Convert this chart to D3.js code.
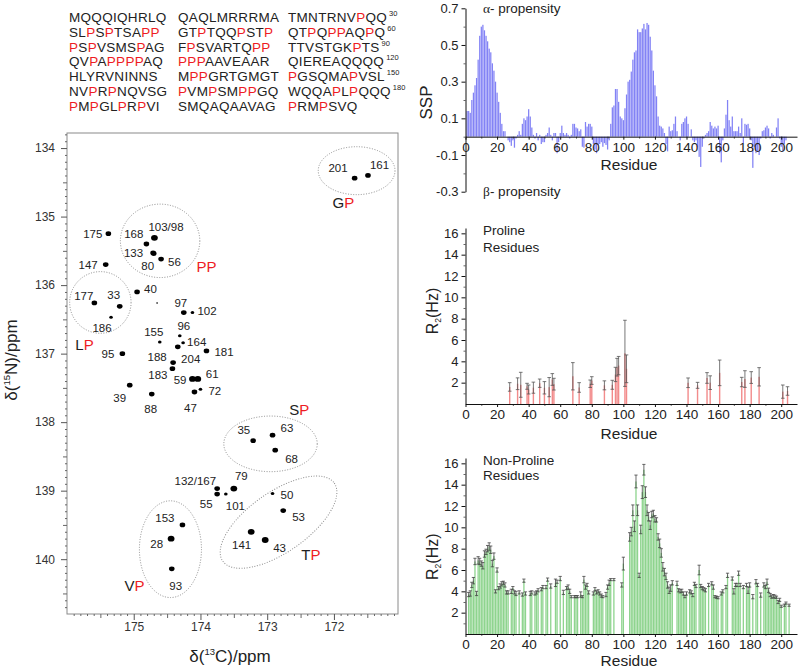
<!DOCTYPE html>
<html><head><meta charset="utf-8">
<script src="https://cdn.jsdelivr.net/npm/d3@7"></script>
<style>body{margin:0;background:#fff}svg{display:block}</style>
</head><body>
<script>
// ---------------- DATA ----------------
const seqRows = [
 "MQQQIQHRLQ QAQLMRRRMA TMNTRNVPQQ",
 "SLPSPTSAPP GTPTQQPSTP QTPQPPAQPQ",
 "PSPVSMSPAG FPSVARTQPP TTVSTGKPTS",
 "QVPAPPPPAQ PPPAAVEAAR QIEREAQQQQ",
 "HLYRVNINNS MPPGRTGMGT PGSQMAPVSL",
 "NVPRPNQVSG PVMPSMPPGQ WQQAPLPQQQ",
 "PMPGLPRPVI SMQAQAAVAG PRMPSVQ"
];
const seqRowEnds = ["30","60","90","120","150","180"];

const peakLabels = ["175","103/98","168","133","80","56","147","40","177","33","","97","102","186","96","155","164","188","181","95","183","204","59","61","72","47","39","88","35","63","68","132/167","55","79","101","50","53","153","28","141","43","93","201","161"];
const peakC = [175.38,174.69,174.81,174.71,174.70,174.59,175.42,174.95,175.59,175.21,174.65,174.25,174.12,175.34,174.31,174.61,174.26,174.34,173.91,175.17,174.42,174.41,174.12,174.04,174.00,174.09,175.06,174.73,173.21,172.92,172.88,173.75,173.75,173.50,173.62,172.92,172.76,174.27,174.44,173.24,173.03,174.43,171.69,171.49];
const peakN = [135.25,135.31,135.40,135.53,135.54,135.62,135.70,136.10,136.26,136.31,136.26,136.40,136.40,136.47,136.74,136.83,136.84,136.90,136.96,137.00,137.22,137.13,137.37,137.37,137.52,137.56,137.46,137.59,138.27,138.19,138.41,138.97,139.05,138.97,139.05,139.04,139.29,139.50,139.70,139.60,139.72,140.14,134.44,134.40];
const peakIntensity = [2,3,2,2,2,2,2,2,2,2,0,2,1,1,1,1,1,2,2,2,2,2,3,3,1,2,2,2,2,2,2,2,2,3,1,1,2,2,3,3,3,2,2,2];

const regionNames = ["PP","LP","GP","SP","VP","TP"];
const regionC  = [174.605,175.50,171.66,172.95,174.45,172.83];
const regionN  = [135.354,136.253,134.33,138.317,139.854,139.46];
const regionRC = [0.595,0.46,0.575,0.70,0.465,1.02];
const regionRN = [0.536,0.45,0.35,0.406,0.706,0.438];
const regionTilt = [0,0,0,0,0,-35];
const regionLabelC = [174.06,175.875,172.02,172.67,175.14,172.49];
const regionLabelN = [135.81,136.95,134.87,137.90,140.47,140.01];

const nmrXTicks = [175,174,173,172];
const nmrYTicks = [134,135,136,137,138,139,140];

// SSP per residue 1..205
const sspValues = [
 0.14,0.14,0.13,0.20,0.24,0.28,0.32,0.42,0.55,0.60,
 0.61,0.58,0.55,0.52,0.48,0.46,0.40,0.36,0.30,0.24,
 0.19,0.13,0.07,0.03,0.03,0.00,-0.02,-0.03,-0.05,-0.02,
 -0.06,-0.01,0.01,0.03,0.01,0.07,0.10,0.09,0.11,0.15,
 0.11,0.05,0.01,-0.01,0.02,-0.02,0.01,-0.04,-0.03,-0.03,
 0.01,0.02,0.05,0.01,-0.02,0.02,0.02,-0.09,-0.03,0.02,
 0.06,0.02,0.01,0.02,0.01,-0.01,0.01,0.07,0.07,0.05,
 0.045,0.03,0.04,-0.055,-0.06,0.08,0.055,0.07,0.07,0.055,
 -0.04,-0.07,-0.09,-0.045,-0.04,-0.03,-0.055,-0.035,-0.045,-0.07,
 -0.02,0.07,0.16,0.17,0.26,0.26,0.19,0.11,0.10,0.09,
 0.155,0.23,0.30,0.31,0.355,0.42,0.46,0.47,0.585,0.57,
 0.57,0.59,0.615,0.585,0.62,0.61,0.545,0.47,0.36,0.28,
 0.22,0.11,0.06,0.055,0.045,0.02,-0.04,-0.08,0.055,0.03,
 0.035,0.07,0.11,0.03,0.00,-0.02,0.07,0.08,0.10,0.11,
 0.07,0.00,0.04,-0.02,-0.03,-0.02,-0.055,-0.11,-0.165,-0.055,
 -0.01,0.01,0.02,0.03,0.08,0.06,0.045,0.055,0.045,0.06,
 -0.09,-0.14,-0.02,0.045,0.12,0.20,0.09,0.055,0.11,0.03,
 0.03,0.03,0.055,0.02,0.10,-0.035,0.07,0.065,0.07,0.045,
 -0.02,-0.17,-0.055,-0.09,-0.08,-0.10,-0.01,0.03,0.035,0.05,
 0.06,0.045,-0.01,0.02,0.01,0.00,0.05,0.10,-0.01,-0.055,
 -0.08,-0.04,-0.02,0.00,0.00
];
const sspTicks = [0.7,0.5,0.3,0.1,-0.1,-0.3];
const residueTicks = [0,20,40,60,80,100,120,140,160,180,200];
const r2Ticks = [2,4,6,8,10,12,14,16];

const proResidues = [28,33,35,39,40,43,47,50,53,55,56,68,72,79,80,88,93,95,96,97,101,102,141,147,153,155,161,175,177,181,186,201,204];
const proR2  = [1.6,1.9,1.8,1.66,1.36,1.53,1.95,1.52,1.58,2.3,1.86,2.6,1.55,1.9,2.2,1.75,1.8,2.77,3.45,3.6,4.75,3.3,1.99,1.75,2.44,2.0,2.92,2.06,2.34,2.48,2.55,1.16,1.22];
const proErr = [0.4,0.55,1.17,0.28,0.42,0.52,0.39,0.58,0.9,0.55,0.55,1.28,0.45,0.35,0.36,0.42,0.42,0.67,0.83,0.86,3.1,1.3,0.45,0.28,0.5,0.64,1.2,0.44,0.78,0.55,0.86,0.62,0.4];

const nonProResidues = [
 2,3,4,5,6,7,8,9,10,11,
 12,13,14,15,16,17,18,19,20,21,
 22,23,24,25,26,27,29,30,31,32,
 34,36,37,38,41,42,44,45,46,48,
 49,51,52,54,57,58,60,62,64,65,
 66,67,69,70,71,73,74,75,76,77,
 78,81,82,83,84,85,86,87,89,90,
 91,92,94,99,100,104,105,106,107,108,
 109,110,111,112,113,114,115,116,117,118,
 119,120,121,122,123,124,125,126,127,128,
 129,130,131,134,135,136,137,138,139,140,
 142,143,144,145,146,148,149,150,151,152,
 154,156,157,158,159,160,162,163,165,166,
 169,170,171,172,173,174,176,178,179,180,
 182,184,185,187,189,190,191,192,193,194,
 195,196,197,198,199,200,202,203,205];
const nonProR2 = [
 3.7,3.8,4.6,5.0,6.8,3.8,6.9,6.8,6.6,6.4,
 7.5,7.7,8.0,8.2,7.9,6.6,7.3,4.0,6.0,4.3,
 4.5,4.7,4.8,4.6,3.9,3.9,4.0,4.3,3.9,3.8,
 3.9,3.7,5.0,3.8,3.8,3.9,3.8,3.9,4.1,4.2,
 4.4,4.4,5.1,4.5,4.8,4.9,5.2,3.9,4.3,4.4,
 4.0,3.5,3.5,3.5,3.5,3.7,3.5,5.1,4.4,4.6,
 3.9,3.8,4.2,3.9,4.0,3.8,3.6,3.5,3.7,4.4,
 4.8,5.1,5.1,4.6,6.6,9.1,9.6,11.6,10.1,14.3,
 11.6,5.5,9.8,13.3,15.4,13.3,11.6,11.0,10.2,11.2,
 11.3,10.8,10.7,9.1,8.5,7.6,6.3,5.8,5.4,4.6,
 4.1,4.3,4.8,4.75,4.1,4.0,4.05,3.8,3.5,3.8,
 4.0,3.9,3.65,4.7,4.5,6.0,4.5,4.3,4.2,4.1,
 4.6,4.75,4.4,3.5,3.45,3.4,3.8,4.0,4.4,5.5,
 5.2,4.0,4.6,4.6,5.7,4.6,4.4,4.6,4.1,4.6,
 3.5,4.9,4.6,3.65,4.6,4.4,4.9,4.1,3.65,3.5,
 3.55,3.5,3.45,3.0,3.2,2.6,2.7,2.9,2.7];
const nonProErr = [
 0.2,0.25,0.25,0.3,0.3,0.2,0.35,0.3,0.25,0.3,
 0.3,0.25,0.3,0.35,0.35,0.3,0.3,0.15,0.2,0.15,
 0.2,0.2,0.15,0.2,0.15,0.15,0.2,0.15,0.15,0.2,
 0.15,0.15,0.15,0.15,0.2,0.15,0.15,0.15,0.15,0.15,
 0.15,0.15,0.15,0.2,0.35,0.15,0.2,0.2,0.15,0.2,
 0.2,0.1,0.1,0.1,0.1,0.25,0.1,0.3,0.2,0.15,
 0.15,0.15,0.15,0.15,0.15,0.15,0.15,0.1,0.2,0.2,
 0.25,0.1,0.1,0.2,0.6,0.4,0.4,0.5,0.5,0.6,
 0.5,0.2,0.4,0.6,0.5,0.5,0.5,0.4,0.4,0.3,
 0.3,0.3,0.2,0.3,0.4,0.4,0.4,0.35,0.3,0.3,
 0.3,0.3,0.2,0.2,0.15,0.15,0.15,0.15,0.1,0.15,
 0.15,0.15,0.15,0.15,0.15,0.45,0.15,0.15,0.15,0.15,
 0.15,0.15,0.2,0.1,0.1,0.1,0.15,0.15,0.15,0.2,
 0.15,0.25,0.15,0.15,0.2,0.15,0.15,0.15,0.3,0.2,
 0.2,0.2,0.15,0.2,0.2,0.15,0.25,0.2,0.15,0.15,
 0.15,0.15,0.1,0.15,0.15,0.1,0.1,0.1,0.1];

// ---------------- LAYOUT / STYLE ----------------
const FONT = '"Liberation Sans", Arial, sans-serif';
const RED = "#ee1c24", INK = "#222";
const labelLayout = {
 "175":[-6,0,"end"],"103/98":[-6,-11,"start"],"168":[-3,-10,"end"],"133":[-10,0,"end"],"80":[-6,12,"middle"],
 "56":[7,3,"start"],"147":[-8,0,"end"],"40":[7,-3,"start"],"177":[-1,-7,"end"],"33":[-6,-12,"middle"],
 "97":[-3,-10,"middle"],"102":[5,-2,"start"],"186":[-9,10,"middle"],"96":[4,-10,"middle"],"155":[-6,-10,"middle"],
 "164":[4,-1,"start"],"188":[-11,10,"end"],"204":[8,-4,"start"],"183":[-5,6,"end"],"181":[8,1,"start"],
 "95":[-8,0,"end"],"59":[-6,1,"end"],"61":[8,-5,"start"],"72":[8,2,"start"],"47":[-4,16,"middle"],
 "39":[-10,13,"middle"],"88":[-1,15,"middle"],"35":[-3,-11,"end"],"63":[8,-7,"start"],"68":[10,9,"start"],
 "132/167":[-1,-8,"end"],"79":[7.5,-13,"middle"],"55":[-11,10,"middle"],"101":[0,12,"start"],"50":[8,1,"start"],
 "53":[9,6,"start"],"153":[-8,-7,"end"],"28":[-8,5,"end"],"141":[0,13,"end"],"43":[8,8,"start"],
 "93":[4,17,"middle"],"201":[-7,-10,"end"],"161":[2,-11,"start"]
};

const svg = d3.select("body").append("svg").attr("width",798).attr("height",670)
  .attr("font-family",FONT);
svg.append("rect").attr("width",798).attr("height",670).attr("fill","#fff");

// ---------- Sequence ----------
const seqX = [69,178,288];
seqRows.forEach((row,i)=>{
  const yb = 22 + i*14.75;
  row.split(" ").forEach((grp,j)=>{
    const t = svg.append("text").attr("x",seqX[j]).attr("y",yb)
      .attr("font-size",13.5).attr("letter-spacing",0.3);
    grp.split("").forEach(ch=> t.append("tspan").attr("fill", ch==="P"?RED:INK).text(ch));
    if(j===2 && i<seqRowEnds.length){
      const len = t.node().getComputedTextLength();
      svg.append("text").attr("x",seqX[j]+len+2).attr("y",yb-6).attr("font-size",7.5)
        .attr("fill",INK).text(seqRowEnds[i]);
    }
  });
});

// ---------- NMR spectrum ----------
const xC = d3.scaleLinear().domain([176,171.04]).range([67,398]);
const yN = d3.scaleLinear().domain([133.78,140.8]).range([133,614]);

svg.append("rect").attr("x",67).attr("y",133).attr("width",331).attr("height",481)
  .attr("fill","none").attr("stroke","#8a8a8a").attr("stroke-width",1);

function ticksOnly(g){ g.select(".domain").remove(); g.selectAll("text").remove(); g.selectAll(".tick line").attr("stroke","#666"); }
const minorN = d3.range(1338,1408).filter(v=>v%5!==0).map(v=>v/10);
const medN = d3.range(1338,1408).filter(v=>v%5===0 && v%10!==0).map(v=>v/10);
const minorC = d3.range(1711,1760).filter(v=>v%5!==0).map(v=>v/10);
const medC = d3.range(1711,1760).filter(v=>v%5===0 && v%10!==0).map(v=>v/10);

const gL = svg.append("g").attr("transform","translate(67,0)");
gL.append("g").call(d3.axisLeft(yN).tickValues(minorN).tickSize(2)).call(ticksOnly);
gL.append("g").call(d3.axisLeft(yN).tickValues(medN).tickSize(4)).call(ticksOnly);
const gLm = gL.append("g").call(d3.axisLeft(yN).tickValues(nmrYTicks).tickSize(6).tickPadding(6).tickFormat(d3.format("d")));
gLm.select(".domain").remove();
gLm.selectAll(".tick line").attr("stroke","#555");
gLm.selectAll("text").attr("font-size",12).attr("font-family",FONT).attr("fill","#333");

const gB = svg.append("g").attr("transform","translate(0,614)");
gB.append("g").call(d3.axisBottom(xC).tickValues(minorC).tickSize(2)).call(ticksOnly);
gB.append("g").call(d3.axisBottom(xC).tickValues(medC).tickSize(4)).call(ticksOnly);
const gBm = gB.append("g").call(d3.axisBottom(xC).tickValues(nmrXTicks).tickSize(6).tickPadding(2).tickFormat(d3.format("d")));
gBm.select(".domain").remove();
gBm.selectAll(".tick line").attr("stroke","#555");
gBm.selectAll("text").attr("font-size",12).attr("font-family",FONT).attr("fill","#333");

// axis titles
const xt = svg.append("text").attr("x",230).attr("y",662).attr("text-anchor","middle")
  .attr("font-size",17).attr("fill",INK);
xt.append("tspan").text("δ(");
xt.append("tspan").attr("font-size",9.5).attr("dy",-7).text("13");
xt.append("tspan").attr("dy",7).text("C)/ppm");
const yt = svg.append("text").attr("transform","translate(17,360) rotate(-90)").attr("text-anchor","middle")
  .attr("font-size",17).attr("fill",INK);
yt.append("tspan").text("δ(");
yt.append("tspan").attr("font-size",9.5).attr("dy",-7).text("15");
yt.append("tspan").attr("dy",7).text("N)/ppm");

// region ellipses
regionNames.forEach((nm,i)=>{
  const cx = xC(regionC[i]), cy = yN(regionN[i]);
  const rx = Math.abs(xC(regionC[i]-regionRC[i]) - cx), ry = Math.abs(yN(regionN[i]+regionRN[i]) - cy);
  svg.append("ellipse").attr("cx",cx).attr("cy",cy).attr("rx",rx).attr("ry",ry)
    .attr("transform",`rotate(${regionTilt[i]},${cx},${cy})`)
    .attr("fill","none").attr("stroke","#8c8c8c").attr("stroke-width",1).attr("stroke-dasharray","1 1.6");
  const t = svg.append("text").attr("x",xC(regionLabelC[i])).attr("y",yN(regionLabelN[i])).attr("font-size",15);
  nm.split("").forEach(ch=> t.append("tspan").attr("fill", ch==="P"?RED:INK).text(ch));
});

// peaks
const rScale = d3.scaleOrdinal().domain([0,1,2,3]).range([0.9,1.8,2.8,3.4]);
const peaks = peakLabels.map((l,i)=>({label:l,c:peakC[i],n:peakN[i],s:peakIntensity[i]}));
svg.append("g").selectAll("ellipse").data(peaks).join("ellipse")
  .attr("cx",d=>xC(d.c)).attr("cy",d=>yN(d.n))
  .attr("rx",d=>rScale(d.s)).attr("ry",d=>rScale(d.s)*0.85).attr("fill","#000");
svg.append("g").selectAll("text").data(peaks.filter(d=>d.label && labelLayout[d.label])).join("text")
  .attr("x",d=>xC(d.c)+labelLayout[d.label][0])
  .attr("y",d=>yN(d.n)+labelLayout[d.label][1]+4.2)
  .attr("text-anchor",d=>labelLayout[d.label][2])
  .attr("font-size",11.5).attr("fill",INK).text(d=>d.label);

// ---------- Right panels ----------
const xR = d3.scaleLinear().domain([0,210]).range([465.5,797]);
function xAxisR(yPos){
  const g = svg.append("g").attr("transform",`translate(0,${yPos})`);
  g.append("g").call(d3.axisBottom(xR).tickValues(d3.range(10,210,20)).tickSize(2).tickSizeOuter(0)).call(ticksOnly);
  const gm = g.append("g").call(d3.axisBottom(xR).tickValues(residueTicks).tickSize(3).tickPadding(2.5).tickSizeOuter(0));
  gm.select(".domain").attr("stroke","#111");
  gm.selectAll(".tick line").attr("stroke","#111");
  gm.selectAll("text").attr("font-size",13.5).attr("font-family",FONT).attr("fill",INK);
}
function yAxisR(scale, major, minor, fmt){
  const g = svg.append("g").attr("transform","translate(465.5,0)");
  g.append("g").call(d3.axisLeft(scale).tickValues(minor).tickSize(2)).call(ticksOnly);
  const gm = g.append("g").call(d3.axisLeft(scale).tickValues(major).tickSize(4).tickPadding(3).tickSizeOuter(0).tickFormat(fmt));
  gm.select(".domain").attr("stroke","#111");
  gm.selectAll(".tick line").attr("stroke","#111");
  gm.selectAll("text").attr("font-size",13).attr("font-family",FONT).attr("fill",INK);
}
function residueTitle(yb){
  svg.append("text").attr("x",629).attr("y",yb).attr("text-anchor","middle").attr("font-size",15.5).attr("fill",INK).text("Residue");
}
function r2Title(cy){
  const t = svg.append("text").attr("transform",`translate(438,${cy}) rotate(-90)`).attr("text-anchor","middle")
    .attr("font-size",16).attr("fill",INK);
  t.append("tspan").text("R");
  t.append("tspan").attr("font-size",8.5).attr("dy",3).text("2");
  t.append("tspan").attr("dy",-3).text("(Hz)");
}

// SSP
const ySSP = d3.scaleLinear().domain([-0.3,0.7]).range([191.7,8.3]);
svg.append("g").selectAll("rect").data(sspValues).join("rect")
  .attr("x",(d,i)=>xR(i+1)-0.6).attr("width",1.25)
  .attr("y",d=>ySSP(Math.max(0,d))).attr("height",d=>Math.abs(ySSP(d)-ySSP(0)))
  .attr("fill","#7474f4").attr("fill-opacity",0.9);
yAxisR(ySSP, sspTicks, [0.6,0.4,0.2,0,-0.2], d=>d.toFixed(1));
xAxisR(ySSP(0));
residueTitle(169.5);
svg.append("text").attr("transform","translate(432,102.5) rotate(-90)").attr("text-anchor","middle")
  .attr("font-size",17).attr("fill",INK).text("SSP");
function propLabel(greek, yb){
  const t = svg.append("text").attr("x",483).attr("y",yb).attr("font-size",13.5).attr("fill",INK);
  t.append("tspan").attr("font-family",'"Liberation Serif", serif').text(greek);
  t.append("tspan").text("- propensity");
}
propLabel("α",12.5);
propLabel("β",195.5);

// error bar helper
function errorBars(g, xs, vs, es, yS, color, cap){
  xs.forEach((r,i)=>{
    const x = xR(r), y1 = yS(vs[i]+es[i]), y2 = yS(vs[i]-es[i]);
    g.append("line").attr("x1",x).attr("x2",x).attr("y1",y1).attr("y2",y2).attr("stroke",color).attr("stroke-width",0.8);
    [y1,y2].forEach(yy=> g.append("line").attr("x1",x-cap).attr("x2",x+cap).attr("y1",yy).attr("y2",yy).attr("stroke",color).attr("stroke-width",0.8));
  });
}

// Proline R2
const yPro = d3.scaleLinear().domain([0,16.5]).range([404,228]);
svg.append("g").selectAll("rect").data(proResidues).join("rect")
  .attr("x",d=>xR(d)-0.7).attr("width",1.4)
  .attr("y",(d,i)=>yPro(proR2[i])).attr("height",(d,i)=>yPro(0)-yPro(proR2[i]))
  .attr("fill","#f28b8b");
errorBars(svg.append("g"), proResidues, proR2, proErr, yPro, "#555", 1.8);
yAxisR(yPro, r2Ticks, [1,3,5,7,9,11,13,15], d3.format("d"));
xAxisR(yPro(0));
residueTitle(439);
r2Title(311);
svg.append("text").attr("x",483).attr("y",234.6).attr("font-size",13.5).attr("fill",INK).text("Proline");
svg.append("text").attr("x",483).attr("y",252.3).attr("font-size",13.5).attr("fill",INK).text("Residues");

// Non-proline R2
const yNP = d3.scaleLinear().domain([0,16.5]).range([634,458]);
svg.append("g").selectAll("rect").data(nonProResidues).join("rect")
  .attr("x",d=>xR(d)-0.65).attr("width",1.3)
  .attr("y",(d,i)=>yNP(nonProR2[i])).attr("height",(d,i)=>yNP(0)-yNP(nonProR2[i]))
  .attr("fill","#8ed48e");
errorBars(svg.append("g"), nonProResidues, nonProR2, nonProErr, yNP, "#444", 1.6);
yAxisR(yNP, r2Ticks, [1,3,5,7,9,11,13,15], d3.format("d"));
xAxisR(yNP(0));
residueTitle(666);
r2Title(556.7);
svg.append("text").attr("x",483).attr("y",465.3).attr("font-size",13.5).attr("fill",INK).text("Non-Proline");
svg.append("text").attr("x",483).attr("y",479.6).attr("font-size",13.5).attr("fill",INK).text("Residues");
</script>
</body></html>
